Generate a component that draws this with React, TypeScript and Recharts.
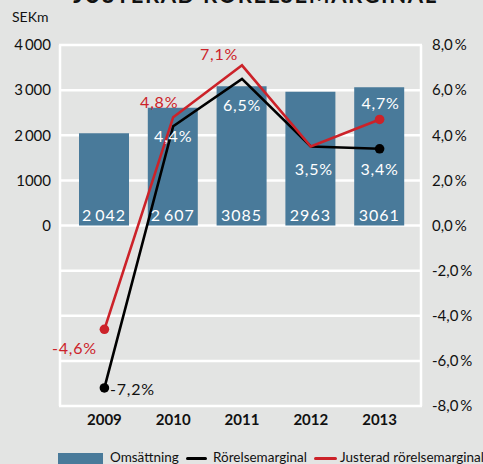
import React from "react";
import {
  ComposedChart,
  Bar,
  Line,
  XAxis,
  YAxis,
  CartesianGrid,
  LabelList,
} from "recharts";

const years = ["2009", "2010", "2011", "2012", "2013"];
const omsattning = [2042, 2607, 3085, 2963, 3061];
const omsattningLabels = ["2\u2009042", "2\u2009607", "3085", "2963", "3061"];
const rorelsemarginal = [-7.2, 4.4, 6.5, 3.5, 3.4];
const justerad = [-4.6, 4.8, 7.1, 3.5, 4.7];

const leftTicks = [0, 1000, 2000, 3000, 4000];
const leftTickLabels = ["0", "1000", "2\u2009000", "3\u2009000", "4\u2009000"];
const rightTicks = [-8, -6, -4, -2, 0, 2, 4, 6, 8];

const data = years.map((year, i) => ({
  year,
  oms: omsattning[i],
  rm: rorelsemarginal[i],
  jrm: justerad[i],
}));

const BG = "#e3e4e3";
const BLUE = "#497a9a";
const RED = "#cc2229";
const FONT = "Lato, 'Open Sans', sans-serif";

const fmtPct = (v: number) => v.toFixed(1).replace(".", ",") + "%";

// label placement relative to the point, and colour per index
const rmLabelPos = [
  { dx: 28, dy: 1, fill: "#111" },
  { dx: 0, dy: 9, fill: "#fff" },
  { dx: 0, dy: 26, fill: "#fff" },
  { dx: 3, dy: 22, fill: "#fff" },
  { dx: 0, dy: 20, fill: "#fff" },
];
const jrmLabelPos = [
  { dx: -30, dy: 18, fill: RED },
  { dx: -14, dy: -16, fill: RED },
  { dx: -23, dy: -12, fill: RED },
  null,
  { dx: 1, dy: -17, fill: "#fff" },
];

const makeLineLabel = (pos: any[], values: number[]) => (props: any) => {
  const { x, y, index } = props;
  const p = pos[index];
  if (!p) return null;
  return (
    <text
      x={x + p.dx}
      y={y + p.dy}
      textAnchor="middle"
      dominantBaseline="central"
      fill={p.fill}
      fontSize={16}
      letterSpacing={0.8}
      fontFamily={FONT}
    >
      {fmtPct(values[index])}
    </text>
  );
};

const makeEndDot = (color: string) => (props: any) => {
  const { cx, cy, index } = props;
  if (index !== 0 && index !== years.length - 1) return <g key={index} />;
  return <circle key={index} cx={cx} cy={cy} r={4.8} fill={color} />;
};

const BarValueLabel = (props: any) => {
  const { x, y, width, height, index } = props;
  return (
    <text
      x={x + width / 2}
      y={y + height - 11}
      textAnchor="middle"
      dominantBaseline="central"
      fill="#fff"
      fontSize={16}
      letterSpacing={1}
      fontFamily={FONT}
    >
      {omsattningLabels[index]}
    </text>
  );
};

const legendText: React.CSSProperties = {
  position: "absolute",
  top: 0,
  lineHeight: "16px",
  whiteSpace: "nowrap",
};

export default function App() {
  return (
    <div
      style={{
        position: "fixed",
        left: 0,
        top: 0,
        width: 483,
        height: 464,
        background: BG,
        overflow: "hidden",
        fontFamily: FONT,
        color: "#111",
      }}
    >
      <div
        style={{
          position: "absolute",
          top: -16.5,
          left: 0,
          width: 511,
          textAlign: "center",
          fontSize: 22,
          lineHeight: "22px",
          letterSpacing: 1.6,
          fontWeight: 700,
          whiteSpace: "nowrap",
        }}
      >
        JUSTERAD RÖRELSEMARGINAL
      </div>
      <div style={{ position: "absolute", top: 8, left: 12, fontSize: 14 }}>SEKm</div>

      <ComposedChart
        width={483}
        height={464}
        data={data}
        margin={{ top: 45, right: 0, left: 0, bottom: 28 }}
      >
        <CartesianGrid
          yAxisId="right"
          stroke="#fff"
          strokeWidth={2.5}
          verticalPoints={[60, 421]}
        />
        <XAxis
          dataKey="year"
          axisLine={false}
          tickLine={false}
          padding={{ left: 11, right: 8 }}
          height={30}
          tick={{ fill: "#111", fontSize: 15, fontWeight: 700, fontFamily: FONT }}
        />
        <YAxis
          yAxisId="left"
          orientation="left"
          width={59}
          domain={[-4000, 4000]}
          ticks={leftTicks}
          axisLine={false}
          tickLine={false}
          tickFormatter={(v: number) => leftTickLabels[leftTicks.indexOf(v)]}
          tick={{ fill: "#111", fontSize: 15, fontFamily: FONT }}
        />
        <YAxis
          yAxisId="right"
          orientation="right"
          width={61}
          domain={[-8, 8]}
          ticks={rightTicks}
          axisLine={false}
          tickLine={false}
          tickMargin={4}
          tickFormatter={(v: number) => v.toFixed(1).replace(".", ",") + "\u2009%"}
          tick={{ fill: "#111", fontSize: 15, fontFamily: FONT }}
        />
        <Bar yAxisId="left" dataKey="oms" fill={BLUE} barSize={50} isAnimationActive={false}>
          <LabelList dataKey="oms" content={BarValueLabel} />
        </Bar>
        <Line
          yAxisId="right"
          dataKey="rm"
          stroke="#000"
          strokeWidth={2.6}
          dot={makeEndDot("#000")}
          activeDot={false}
          isAnimationActive={false}
        >
          <LabelList dataKey="rm" content={makeLineLabel(rmLabelPos, rorelsemarginal)} />
        </Line>
        <Line
          yAxisId="right"
          dataKey="jrm"
          stroke={RED}
          strokeWidth={2.6}
          dot={makeEndDot(RED)}
          activeDot={false}
          isAnimationActive={false}
        >
          <LabelList dataKey="jrm" content={makeLineLabel(jrmLabelPos, justerad)} />
        </Line>
      </ComposedChart>

      <div
        style={{
          position: "absolute",
          top: 449,
          left: 0,
          width: 483,
          height: 16,
          fontSize: 13.5,
        }}
      >
        <div style={{ position: "absolute", left: 58, top: 4, width: 45, height: 12, background: BLUE }} />
        <div style={{ ...legendText, left: 110 }}>Omsättning</div>
        <div style={{ position: "absolute", left: 186, top: 7.5, width: 21, height: 3.5, borderRadius: 2, background: "#000" }} />
        <div style={{ ...legendText, left: 213 }}>Rörelsemarginal</div>
        <div style={{ position: "absolute", left: 314, top: 7.5, width: 23, height: 3.5, borderRadius: 2, background: RED }} />
        <div style={{ ...legendText, left: 340 }}>Justerad rörelsemarginal</div>
      </div>
    </div>
  );
}
